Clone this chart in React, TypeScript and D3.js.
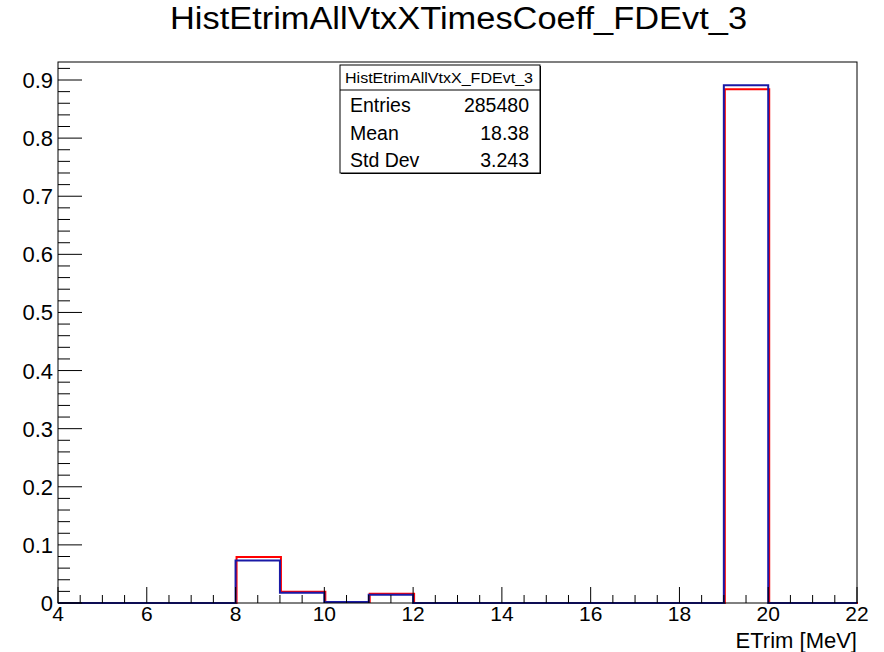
import React from "react";
import * as d3 from "d3";

const binEdgesStart = 4;
const binWidth = 1;
const redValues = [0, 0, 0, 0, 0.079, 0.0195, 0.0017, 0.016, 0, 0, 0, 0, 0, 0, 0, 0.884, 0, 0];
const blueValues = [0, 0, 0, 0, 0.073, 0.0178, 0.0017, 0.0143, 0, 0, 0, 0, 0, 0, 0, 0.891, 0, 0];
const xTickLabels = [4, 6, 8, 10, 12, 14, 16, 18, 20, 22];
const yTickLabels = [0, 0.1, 0.2, 0.3, 0.4, 0.5, 0.6, 0.7, 0.8, 0.9];
const statsRows = [
  ["Entries", "285480"],
  ["Mean", "18.38"],
  ["Std Dev", "3.243"],
];
const titleText = "HistEtrimAllVtxXTimesCoeff_FDEvt_3";
const statsTitle = "HistEtrimAllVtxX_FDEvt_3";
const xAxisTitle = "ETrim [MeV]";

const W = 884;
const H = 652;
const L = 58, R = 857, T = 62, B = 603;
const FONT = "'Liberation Sans', Arial, Helvetica, sans-serif";

function stepPath(values: number[], x: d3.ScaleLinear<number, number>, y: d3.ScaleLinear<number, number>) {
  const pts: [number, number][] = [];
  pts.push([x(binEdgesStart), y(0)]);
  values.forEach((v, i) => {
    const x0 = binEdgesStart + i * binWidth;
    pts.push([x(x0), y(v)]);
    pts.push([x(x0 + binWidth), y(v)]);
  });
  pts.push([x(binEdgesStart + values.length * binWidth), y(0)]);
  return d3.line()(pts) || "";
}

export default function App() {
  const x = d3.scaleLinear().domain([4, 22]).range([L, R]);
  const y = d3.scaleLinear().domain([0, 0.931]).range([B, T]);

  const xMinor = d3.range(4, 22.001, 0.5);
  const yMinor = d3.range(0, 0.931, 0.02);

  return (
    <svg width={W} height={H} style={{ position: "absolute", left: 0, top: 0, background: "#fff" }} fontFamily={FONT}>
      <rect x={0} y={0} width={W} height={H} fill="#fff" />
      <text x={170} y={29} fontSize={31} textLength={577} lengthAdjust="spacingAndGlyphs" fill="#000">{titleText}</text>

      {/* histograms */}
      <path d={stepPath(redValues, x, y)} fill="none" stroke="#ff0000" strokeWidth={2} transform="translate(1,0)" />
      <path d={stepPath(blueValues, x, y)} fill="none" stroke="#1a1aa6" strokeWidth={2} />

      {/* frame */}
      <rect x={L} y={T} width={R - L} height={B - T} fill="none" stroke="#000" strokeWidth={1} />

      {/* x ticks */}
      {xMinor.map((v, i) => {
        const major = Math.abs(v / 2 - Math.round(v / 2)) < 1e-6;
        const len = major ? 16 : 8;
        return <line key={"xm" + i} x1={x(v)} x2={x(v)} y1={B} y2={B - len} stroke="#000" strokeWidth={1} />;
      })}
      {xTickLabels.map((v) => (
        <text key={"xl" + v} x={x(v)} y={621} textAnchor="middle" fontSize={21} fill="#000">{v}</text>
      ))}
      <text x={R} y={648} textAnchor="end" fontSize={22} fill="#000">{xAxisTitle}</text>

      {/* y ticks */}
      {yMinor.map((v, i) => {
        const major = Math.abs(v * 10 - Math.round(v * 10)) < 1e-6;
        const len = major ? 24 : 12;
        return <line key={"ym" + i} x1={L} x2={L + len} y1={y(v)} y2={y(v)} stroke="#000" strokeWidth={1} />;
      })}
      {yTickLabels.map((v) => (
        <text key={"yl" + v} x={53} y={y(v) + 8} textAnchor="end" fontSize={22} fill="#000">{v === 0 ? "0" : v.toFixed(1)}</text>
      ))}

      {/* stats box */}
      <rect x={341} y={66} width={200} height={108} fill="#000" />
      <rect x={340} y={65} width={200} height={108} fill="#fff" stroke="#000" strokeWidth={1} />
      <line x1={340} x2={540} y1={90} y2={90} stroke="#000" strokeWidth={1} />
      <text x={345} y={83} fontSize={14} textLength={188} lengthAdjust="spacingAndGlyphs" fill="#000">{statsTitle}</text>
      {statsRows.map((r, i) => (
        <g key={r[0]}>
          <text x={350} y={112 + i * 27.5} fontSize={19.5} fill="#000">{r[0]}</text>
          <text x={529} y={112 + i * 27.5} textAnchor="end" fontSize={19.5} fill="#000">{r[1]}</text>
        </g>
      ))}
    </svg>
  );
}
